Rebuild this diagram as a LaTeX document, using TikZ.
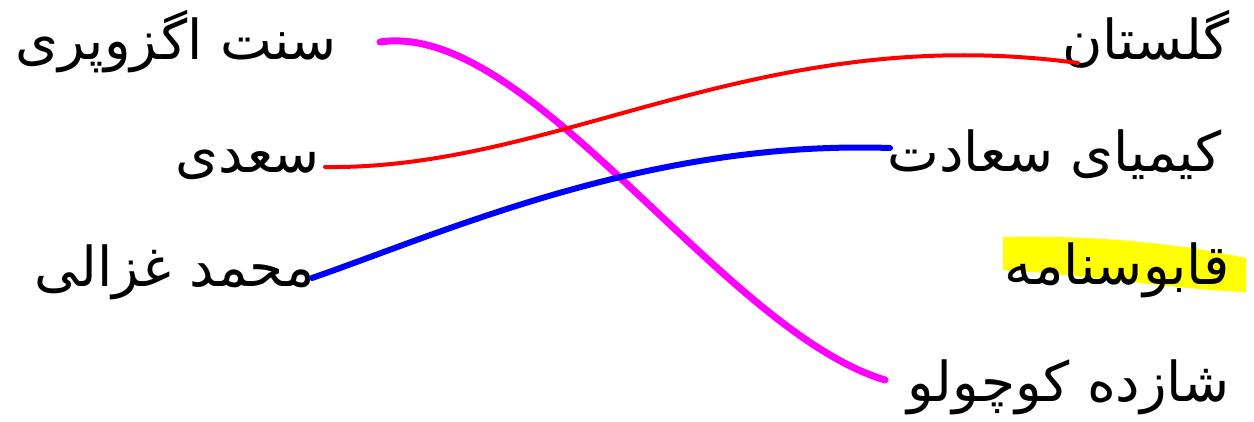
\documentclass[tikz,border=0pt]{standalone}
\usepackage{fontspec}
\newfontfamily\arabicfont[Script=Arabic]{DejaVu Sans}
\TeXXeTstate=1
\definecolor{mag}{RGB}{255,0,255}
\definecolor{hl}{RGB}{255,255,0}
\begin{document}
\begin{tikzpicture}[x=1pt,y=-1pt,
  lbl/.style={inner sep=0pt,anchor=base east,font=\arabicfont\fontsize{55}{66}\selectfont},
  link/.style={line cap=round,line join=round}]
\useasboundingbox (0,0) rectangle (1254,421);
\fill[hl] (1003,237) .. controls (1100,235) and (1180,244) .. (1246,258) -- (1246,292) .. controls (1180,290) and (1100,276) .. (1003,270) -- cycle;
\node[lbl] (l1) at (337,59) {\beginR سنت اگزوپری\endR};
\node[lbl] (l2) at (320,172) {\beginR سعدی\endR};
\node[lbl] (l3) at (315,286) {\beginR محمد غزالی\endR};
\node[lbl] (r1) at (1230,59) {\beginR گلستان\endR};
\node[lbl] (r2) at (1222,171) {\beginR کیمیای سعادت\endR};
\node[lbl] (r3) at (1230,284) {\beginR قابوسنامه\endR};
\node[lbl] (r4) at (1230,401) {\beginR شازده کوچولو\endR};
\coordinate (a1) at (380,42);
\coordinate (a2) at (325,167);
\coordinate (a3) at (312,278);
\coordinate (b1) at (1078,63);
\coordinate (b2) at (890,148);
\coordinate (b4) at (885,380);
\draw[link,mag,line width=7pt] (a1) .. controls (530,20) and (720,330) .. (b4);
\draw[link,red,line width=4pt] (a2) .. controls (560,170) and (760,20) .. (b1);
\draw[link,blue,line width=6pt] (a3) .. controls (450,230) and (650,140) .. (b2);
\end{tikzpicture}
\end{document}
